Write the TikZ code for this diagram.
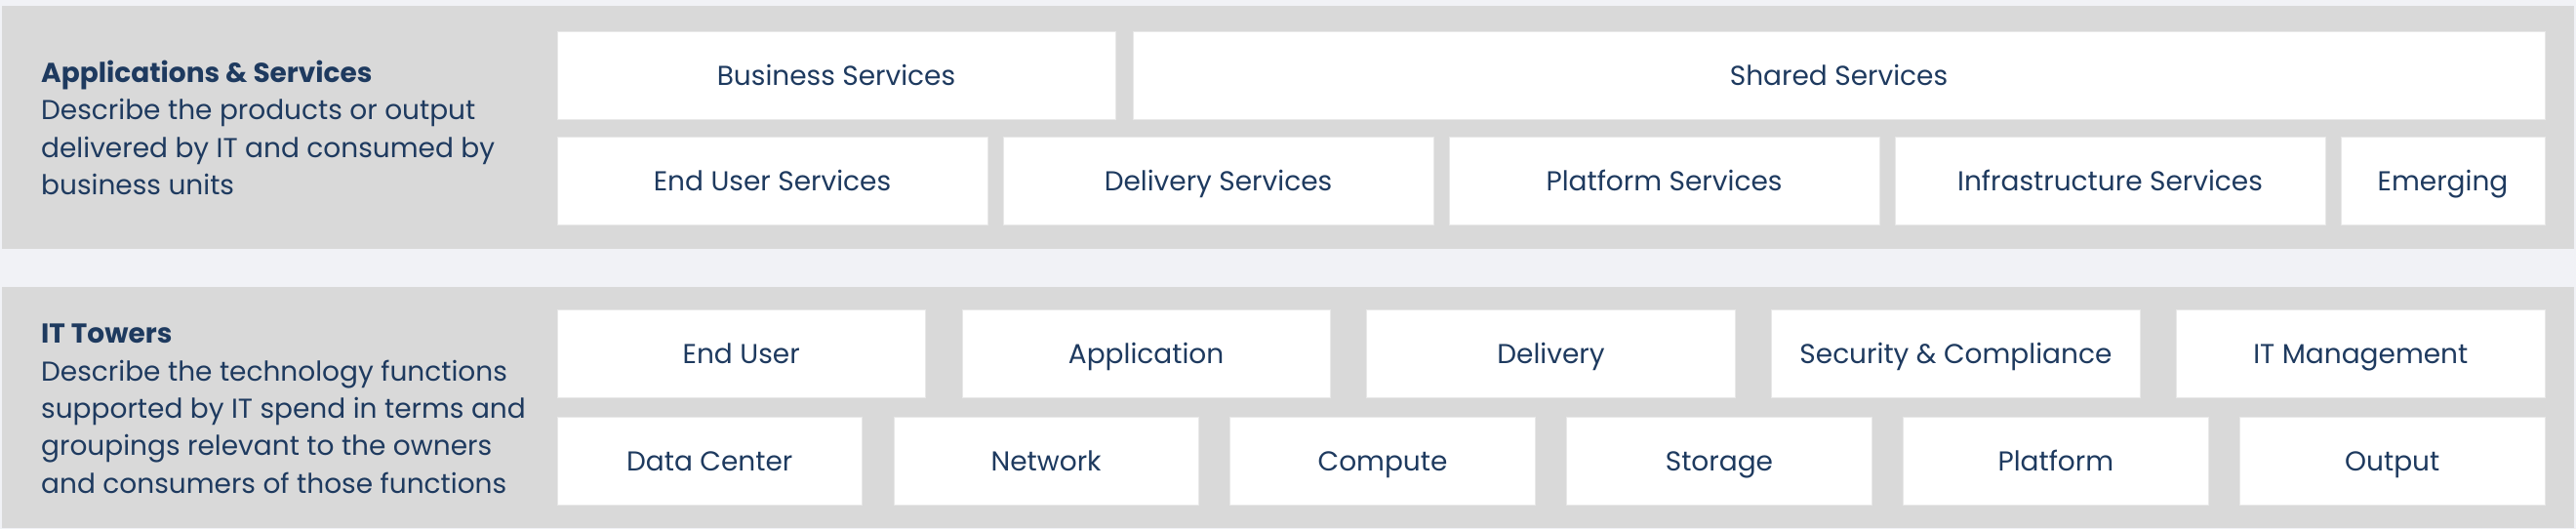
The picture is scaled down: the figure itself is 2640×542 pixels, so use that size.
\documentclass[tikz,border=0pt]{standalone}
\usepackage{fontspec}
\setmainfont{Poppins}
\usepackage{xcolor}
\definecolor{pagebg}{HTML}{F1F2F6}
\definecolor{panelgray}{HTML}{D9D9D9}
\definecolor{navytext}{HTML}{1E3A5F}
\tikzset{
  tile/.style={fill=white, draw=panelgray!60, line width=0.8pt, minimum height=90pt,
    inner sep=0pt, text height=20pt, text depth=0pt, text=navytext,
    font=\fontsize{28}{34}\selectfont},
  sidetext/.style={anchor=north west, align=left, inner sep=0pt, text=navytext,
    font=\fontsize{28}{38.3}\selectfont}
}
\begin{document}
\begin{tikzpicture}[x=1pt, y=-1pt]
% Page background and the two gray bands
\fill[pagebg] (0,0) rectangle (2640,542);
\useasboundingbox (0,0) rectangle (2640,542);
\fill[panelgray] (2,6) rectangle (2638,255);
\fill[panelgray] (2,294) rectangle (2638,541);

% Applications & Services
\node[sidetext] (apptext) at (42,62) {\textbf{Applications \& Services}\\Describe the products or output\\delivered by IT and consumed by\\business units};

\node[tile, minimum width=572pt] (bizsvc) at (857,77) {Business Services};
\node[tile, minimum width=1447pt] (sharedsvc) at (1884.5,77) {Shared Services};

\node[tile, minimum width=441pt] (endusersvc) at (791.5,185) {End User Services};
\node[tile, minimum width=441pt] (deliverysvc) at (1248.5,185) {Delivery Services};
\node[tile, minimum width=441pt] (platformsvc) at (1705.5,185) {Platform Services};
\node[tile, minimum width=441pt] (infrasvc) at (2162.5,185) {Infrastructure Services};
\node[tile, minimum width=209pt] (emerging) at (2503.5,185) {Emerging};

% IT Towers
\node[sidetext] (towertext) at (42,332) {\textbf{IT Towers}\\Describe the technology functions\\supported by IT spend in terms and\\groupings relevant to the owners\\and consumers of those functions};

\node[tile, minimum width=377.4pt] (enduser) at (759.7,362.5) {End User};
\node[tile, minimum width=377.4pt] (application) at (1174.6,362.5) {Application};
\node[tile, minimum width=377.4pt] (delivery) at (1589.5,362.5) {Delivery};
\node[tile, minimum width=377.4pt] (security) at (2004.4,362.5) {Security \& Compliance};
\node[tile, minimum width=377.4pt] (itmgmt) at (2419.3,362.5) {IT Management};

\node[tile, minimum width=312.5pt] (datacenter) at (727.25,472.5) {Data Center};
\node[tile, minimum width=312.5pt] (network) at (1072.15,472.5) {Network};
\node[tile, minimum width=312.5pt] (compute) at (1417.05,472.5) {Compute};
\node[tile, minimum width=312.5pt] (storage) at (1761.95,472.5) {Storage};
\node[tile, minimum width=312.5pt] (platform) at (2106.85,472.5) {Platform};
\node[tile, minimum width=312.5pt] (output) at (2451.75,472.5) {Output};
\end{tikzpicture}
\end{document}
